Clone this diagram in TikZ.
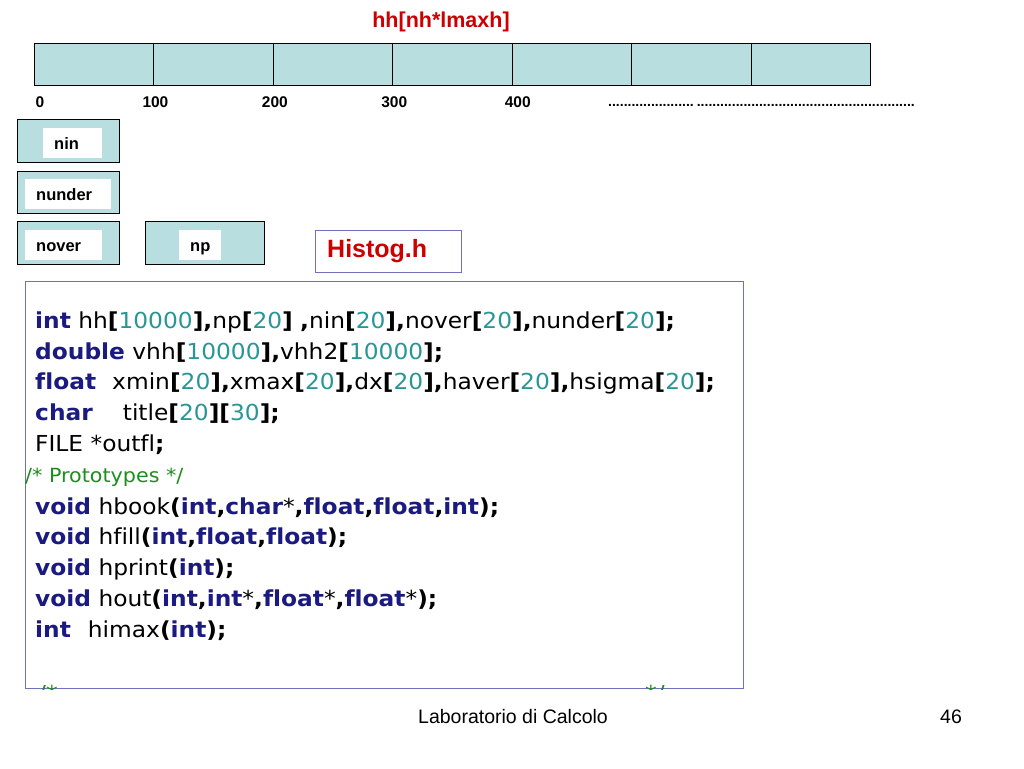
\documentclass[tikz,border=0pt]{standalone}
\usepackage{fontspec}
\setmainfont{Liberation Sans}
\newfontfamily\codefont[FakeStretch=1.06, Ligatures=NoCommon]{DejaVu Sans}
\definecolor{cellblue}{RGB}{184,222,224}
\definecolor{titlered}{RGB}{204,0,0}
\definecolor{frameblue}{RGB}{112,112,192}
\definecolor{kwblue}{RGB}{26,26,128}
\definecolor{numteal}{RGB}{40,150,150}
\definecolor{cmtgreen}{RGB}{30,140,30}
\newcommand{\kw}[1]{{\bfseries\color{kwblue}#1}}
\newcommand{\nb}[1]{{\color{numteal}#1}}
\newcommand{\pn}[1]{{\bfseries #1}}
\tikzset{cell/.style={draw=black, fill=cellblue, line width=0.8pt, minimum width=119.43pt, minimum height=42pt, inner sep=0pt, anchor=north west}}
\tikzset{var/.style={draw=black, fill=cellblue, line width=0.8pt, inner sep=0pt, anchor=north west}}
\tikzset{tag/.style={fill=white, inner xsep=11pt, inner ysep=0pt, minimum height=30pt, text height=12pt, text depth=0pt, align=left, anchor=north west, font=\bfseries\fontsize{16.5}{16.5}\selectfont}}
\tikzset{code/.style={anchor=base west, inner sep=0pt, font=\codefont\fontsize{22}{22}\selectfont}}

\begin{document}
\begin{tikzpicture}[x=1pt, y=-1pt]
        \useasboundingbox (0,0) rectangle (1024,768);

        \node[font=\bfseries\fontsize{21.5}{21.5}\selectfont, text=titlered, anchor=base] (title) at (441,28) {hh[nh*lmaxh]};

        % array cells
        \foreach \i in {0,...,6}{
            \node[cell] (c\i) at (34+119.43*\i,43) {};
        }
        \node[font=\bfseries\fontsize{15.5}{15.5}\selectfont] (n0) at ([xshift=6pt,yshift=-16pt]c0.south west) {0};
        \foreach \i/\v/\d in {1/100/2,2/200/2,3/300/2,4/400/6}{
            \node[font=\bfseries\fontsize{15.5}{15.5}\selectfont] (n\i) at ([xshift=\d pt,yshift=-16pt]c\i.south west) {\v};
        }
        \node[font=\bfseries\fontsize{14}{14}\selectfont, anchor=base west, inner sep=0pt] (dots) at (608,106)
            {\foreach \k in {1,...,22}{.}\hspace{3pt}\foreach \k in {1,...,56}{.}};

        % counters
        \node[var, minimum width=102pt, minimum height=43pt] (ninbox) at (17,119) {};
        \node[tag, text width=37pt] (nin) at ([xshift=26pt,yshift=-9pt]ninbox.north west) {nin};
        \node[var, minimum width=102pt, minimum height=42pt] (nunderbox) at (17,171) {};
        \node[tag, text width=64pt] (nunder) at ([xshift=8pt,yshift=-8pt]nunderbox.north west) {nunder};
        \node[var, minimum width=102pt, minimum height=43pt] (noverbox) at (17,221) {};
        \node[tag, text width=55pt] (nover) at ([xshift=8pt,yshift=-9pt]noverbox.north west) {nover};
        \node[var, minimum width=119pt, minimum height=43pt] (npbox) at (145,221) {};
        \node[tag, text width=20pt] (np) at ([xshift=34pt,yshift=-9pt]npbox.north west) {np};

        \node[draw=frameblue, line width=1pt, minimum width=146pt, minimum height=42pt, anchor=north west, inner sep=0pt] (hfile) at (315,230) {};
        \node[font=\bfseries\fontsize{25}{25}\selectfont, text=titlered, anchor=west, inner sep=0pt] (hname) at ([xshift=12pt]hfile.west) {Histog.h};

        % header listing
        \node[draw=frameblue, line width=1pt, minimum width=718pt, minimum height=407pt, anchor=north west, inner sep=0pt] (codebox) at (25,281) {};
        \begin{scope}
            \clip (codebox.south west) rectangle (codebox.north east);
            \node[code] (l1) at (35,328) {\kw{int} hh\pn{[}\nb{10000}\pn{],}np\pn{[}\nb{20}\pn{]} \pn{,}nin\pn{[}\nb{20}\pn{],}nover\pn{[}\nb{20}\pn{],}nunder\pn{[}\nb{20}\pn{];}};
            \node[code] (l2) at (35,359) {\kw{double} vhh\pn{[}\nb{10000}\pn{],}vhh2\pn{[}\nb{10000}\pn{];}};
            \node[code] (l3) at (35,389) {\kw{float}\hspace{16pt}xmin\pn{[}\nb{20}\pn{],}xmax\pn{[}\nb{20}\pn{],}dx\pn{[}\nb{20}\pn{],}haver\pn{[}\nb{20}\pn{],}hsigma\pn{[}\nb{20}\pn{];}};
            \node[code] (l4) at (35,420) {\kw{char}\hspace{30pt}title\pn{[}\nb{20}\pn{][}\nb{30}\pn{];}};
            \node[code] (l5) at (35,451) {FILE *outfl\pn{;}};
            \node[code, font=\codefont\fontsize{19.5}{19.5}\selectfont, text=cmtgreen] (l6) at (25,482) {/* Prototypes */};
            \node[code] (l7) at (35,514) {\kw{void} hbook\pn{(}\kw{int}\pn{,}\kw{char}*\pn{,}\kw{float}\pn{,}\kw{float}\pn{,}\kw{int}\pn{);}};
            \node[code] (l8) at (35,544) {\kw{void} hfill\pn{(}\kw{int}\pn{,}\kw{float}\pn{,}\kw{float}\pn{);}};
            \node[code] (l9) at (35,575) {\kw{void} hprint\pn{(}\kw{int}\pn{);}};
            \node[code] (l10) at (35,606) {\kw{void} hout\pn{(}\kw{int}\pn{,}\kw{int}*\pn{,}\kw{float}*\pn{,}\kw{float}*\pn{);}};
            \node[code] (l11) at (35,637) {\kw{int}\hspace{17pt}himax\pn{(}\kw{int}\pn{);}};
            \node[code, text=cmtgreen] (c1) at (38,701) {/*};
            \node[code, text=cmtgreen] (c2) at (645,701) {*/};
        \end{scope}

        % footer
        \node[font=\fontsize{19.5}{19.5}\selectfont] (course) at (513,717) {Laboratorio di Calcolo};
        \node[font=\fontsize{19.5}{19.5}\selectfont] (page) at (951,717) {46};
\end{tikzpicture}
\end{document}
